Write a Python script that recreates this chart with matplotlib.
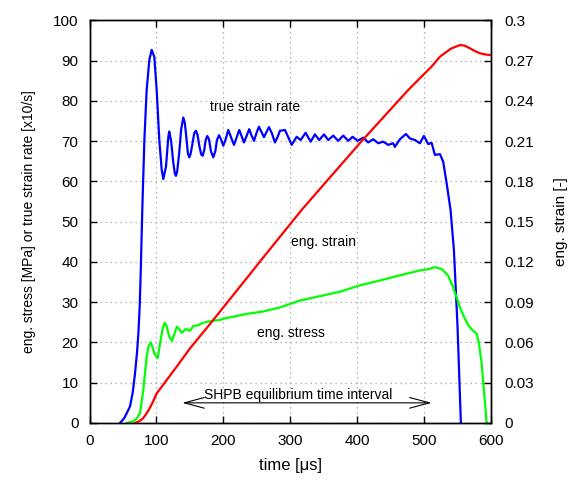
import matplotlib
matplotlib.use("Agg")
import matplotlib.pyplot as plt

plt.rcParams["font.family"] = ["Liberation Sans", "DejaVu Sans"]
plt.rcParams["font.size"] = 11

# ---------------------------------------------------------------------------
# data
# ---------------------------------------------------------------------------
# true strain rate [x10/s], left axis
rate_t = [45.6, 52, 60.5, 64.5, 68, 71, 73, 75, 76.5, 79, 82, 85.4, 89.4,
          92.9, 96.8, 100.4, 104.3, 107.9, 110.3, 114.3, 117.8, 119.2, 122,
          125, 127.5, 129.2, 131, 134, 137, 140.2, 142.5, 145, 147, 149.1,
          151, 154, 156.5, 159.1, 161.5, 164.5, 167, 169.1, 171.5, 173.5,
          176, 178.5, 181.5, 185, 188, 190.5, 193.5, 196.5, 199.9, 203.5,
          207.4, 211.5, 215.9, 220, 223.8, 227.5, 230.8, 234.5, 238.7, 242,
          245.8, 249.5, 253.2, 257, 260.7, 264.5, 268.2, 272.5, 277.1, 281,
          284.6, 292.1, 297, 302.1, 309.6, 315.5, 323.0, 330.5, 336.9, 343.3,
          350.4, 356.8, 364.3, 371.7, 379.2, 386.7, 393.2, 400.7, 409.1,
          416.5, 424.0, 431.5, 438.9, 446.4, 453.9, 456.4, 463.9, 472.9,
          478.8, 486.3, 493.8, 499.8, 506.2, 511.3, 516.2, 523.7, 528.6,
          533.7, 539.6, 544.6, 550, 555]
rate_v = [0, 1.2, 4.1, 7.5, 12.3, 17.5, 22.2, 29, 37.2, 53.7, 70.3, 82.7,
          90.2, 92.7, 91, 82.7, 70.3, 62.9, 60.6, 63.7, 71.1, 72.4, 70, 65,
          62, 61.4, 62.5, 67, 73, 75.9, 74.5, 70.5, 67, 66.0, 66.8, 69.5, 72,
          72.6, 71.5, 68.5, 66.7, 66.4, 67.8, 70.2, 71.3, 70.5, 67.5, 66.0,
          67.5, 70.3, 71.5, 70.5, 68.9, 70.5, 72.8, 71, 69.1, 71, 72.8, 71.2,
          69.7, 71.2, 73.0, 71.5, 70.1, 72, 73.6, 72.3, 71.0, 72.3, 73.5, 72,
          69.7, 71, 72.6, 72.8, 71, 69.1, 71.1, 70.3, 72.1, 69.9, 71.7, 70.3,
          71.7, 70.3, 71.4, 70.1, 71.4, 70.1, 71.1, 70.1, 70.9, 69.7, 70.5,
          69.5, 69.9, 69.1, 69.5, 68.6, 70.5, 71.8, 70.7, 70.3, 69.5, 71.3,
          69.3, 69.6, 66.6, 66.8, 64.9, 59.6, 52.9, 43.0, 24, 0]

# eng. stress [MPa], left axis
stress_t = [55.5, 65, 70, 75.4, 80.4, 85.4, 88.5, 91.4, 94, 96.8, 101.8,
            106.3, 109, 112.3, 115, 119.2, 123.3, 126.5, 130.3, 134, 137.7,
            141, 144.2, 150.2, 155.1, 162.6, 170, 177.5, 185, 195, 202.5,
            214.8, 234.9, 259.7, 284.6, 314, 344, 374, 404, 434, 464, 494,
            506, 516, 526, 536, 543.5, 553.5, 560, 566, 572, 578.5, 582,
            586, 590, 593.5]
stress_v = [0, 0.4, 1.0, 2.4, 8.2, 16.5, 19.3, 20.0, 18.9, 17.3, 16.1, 20.6,
            23.2, 24.9, 24.2, 21.4, 20.4, 21.9, 23.9, 23.4, 22.4, 22.9, 23.4,
            22.9, 24.1, 24.3, 24.9, 25.2, 25.4, 25.6, 26.0, 26.4, 27.1, 27.7,
            28.7, 30.4, 31.5, 32.6, 34.2, 35.4, 36.7, 37.9, 38.2, 38.7, 38.3,
            36.6, 33.7, 28.8, 26.2, 24.3, 23.1, 22.2, 19.8, 14.8, 7, 0]

# eng. strain [-], right axis
strain_t = [68, 75, 80, 85.4, 90, 95, 100.4, 108, 115.3, 130.3, 150, 185,
            264.7, 317, 403.9, 476.3, 493.8, 510, 523.7, 540, 553.6, 561,
            568.5, 576, 583.4, 591, 600]
strain_v = [0, 0.0015, 0.0035, 0.0072, 0.011, 0.016, 0.0221, 0.027, 0.032,
            0.042, 0.0555, 0.0768, 0.1265, 0.1588, 0.2085, 0.2482, 0.257,
            0.265, 0.273, 0.279, 0.2817, 0.2812, 0.2793, 0.2772, 0.2756,
            0.2747, 0.2742]

x_ticks = [0, 100, 200, 300, 400, 500, 600]
left_ticks = list(range(0, 101, 10))
right_ticks = [0, 0.03, 0.06, 0.09, 0.12, 0.15, 0.18, 0.21, 0.24, 0.27, 0.3]
right_labels = ["0", "0.03", "0.06", "0.09", "0.12", "0.15", "0.18", "0.21",
                "0.24", "0.27", "0.3"]

equil_start, equil_end, equil_y = 138.6, 511.3, 5

# ---------------------------------------------------------------------------
fig = plt.figure(figsize=(5.76, 4.8), dpi=100)
ax = fig.add_axes([0.1554, 0.1188, 0.6970, 0.8385])
ax2 = ax.twinx()

ax.plot(rate_t, rate_v, color="#0000ff", lw=1.6, solid_joinstyle="round")
ax.plot(stress_t, stress_v, color="#00ff00", lw=1.6, solid_joinstyle="round")
ax2.plot(strain_t, strain_v, color="#ff0000", lw=1.6, solid_joinstyle="round")

ax.set_xlim(0, 600)
ax.set_ylim(0, 100)
ax2.set_ylim(0, 0.3)

ax.set_xticks(x_ticks)
ax.set_yticks(left_ticks)
ax2.set_yticks(right_ticks)
ax2.set_yticklabels(right_labels)

ax.tick_params(axis="x", direction="in", length=5, width=1, pad=8, top=True)
ax.tick_params(axis="y", direction="in", length=5, width=1, pad=8, right=False)
ax2.tick_params(axis="y", direction="in", length=5, width=1, pad=10)

ax.grid(True, color="#a0a0a0", linestyle=(0, (1, 3)), linewidth=0.9)
for a in (ax, ax2):
    for s in a.spines.values():
        s.set_linewidth(1.0)

ax.set_xlabel("time [μs]", labelpad=7, fontsize=12)
ax.set_ylabel("eng. stress [MPa] or true strain rate [x10/s]", labelpad=12,
              fontsize=10)
ax2.set_ylabel("eng. strain [-]", labelpad=14)

ax.text(247.6, 78.5, "true strain rate", ha="center", va="center", fontsize=10)
ax.text(350, 45, "eng. strain", ha="center", va="center", fontsize=10)
ax.text(301, 22.4, "eng. stress", ha="center", va="center", fontsize=10)

ax.annotate("", xy=(equil_start, equil_y), xytext=(equil_end, equil_y),
            arrowprops=dict(arrowstyle="<->,head_length=1.3,head_width=0.35",
                            color="black", lw=0.8, shrinkA=0, shrinkB=0))
ax.text(311.5, 7.0, "SHPB equilibrium time interval", ha="center",
        va="center", fontsize=10)

fig.savefig("out.png", dpi=100)
